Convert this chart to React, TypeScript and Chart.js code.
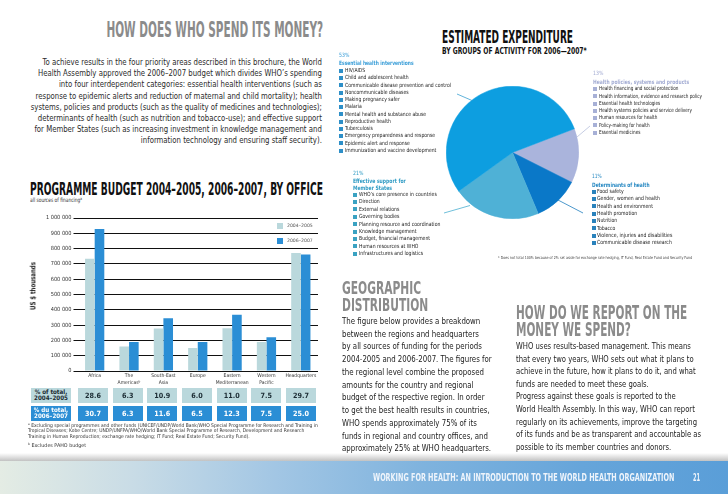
import React, { useEffect, useLayoutEffect, useRef } from "react";
import { Chart, registerables } from "chart.js";
Chart.register(...registerables);

// ---------- data ----------
const offices = [["Africa"], ["The", "Americasᵇ"], ["South-East", "Asia"], ["Europe"], ["Eastern", "Mediterranean"], ["Western", "Pacific"], ["Headquarters"]];
const seriesNames = ["2004–2005", "2006–2007"];
const budget2004_2005 = [733000, 160000, 277000, 151000, 279000, 190000, 772000];
const budget2006_2007 = [928000, 190000, 345000, 190000, 367000, 221000, 761000];
const yMax = 1000000;
const yStep = 100000;
const share2004_2005 = [28.6, 6.3, 10.9, 6.0, 11.0, 7.5, 29.7];
const share2006_2007 = [30.7, 6.3, 11.6, 6.5, 12.3, 7.5, 25.0];
const shareRowLabels = [["% of total,", "2004–2005"], ["% du total,", "2006–2007"]];

const groupNames = ["Health policies, systems and products", "Determinants of health", "Effective support for Member States", "Essential health interventions"];
const groupShares = [13, 11, 21, 53];
const itemsEssential = ["HIV/AIDS", "Child and adolescent health", "Communicable disease prevention and control", "Noncommunicable diseases", "Making pregnancy safer", "Malaria", "Mental health and substance abuse", "Reproductive health", "Tuberculosis", "Emergency preparedness and response", "Epidemic alert and response", "Immunization and vaccine development"];
const itemsPolicies = ["Health financing and social protection", "Health information, evidence and research policy", "Essential health technologies", "Health systems policies and service delivery", "Human resources for health", "Policy-making for health", "Essential medicines"];
const itemsSupport = ["WHO’s core presence in countries", "Direction", "External relations", "Governing bodies", "Planning resource and coordination", "Knowledge management", "Budget, financial management", "Human resources at WHO", "Infrastructures and logistics"];
const itemsDeterminants = ["Food safety", "Gender, women and health", "Health and environment", "Health promotion", "Nutrition", "Tobacco", "Violence, injuries and disabilities", "Communicable disease research"];

const introLines = [
  "To achieve results in the four priority areas described in this brochure, the World",
  "Health Assembly approved the 2006–2007 budget which divides WHO’s spending",
  "into four interdependent categories: essential health interventions (such as",
  "response to epidemic alerts and reduction of maternal and child mortality); health",
  "systems, policies and products (such as the quality of medicines and technologies);",
  "determinants of health (such as nutrition and tobacco-use); and effective support",
  "for Member States (such as increasing investment in knowledge management and",
  "information technology and ensuring staff security).",
];
const geoLines = [
  "The figure below provides a breakdown",
  "between the regions and headquarters",
  "by all sources of funding for the periods",
  "2004-2005 and 2006-2007. The figures for",
  "the regional level combine the proposed",
  "amounts for the country and regional",
  "budget of the respective region. In order",
  "to get the best health results in countries,",
  "WHO spends approximately 75% of its",
  "funds in regional and country offices, and",
  "approximately 25% at WHO headquarters.",
];
const reportLines = [
  "WHO uses results-based management. This means",
  "that every two years, WHO sets out what it plans to",
  "achieve in the future, how it plans to do it, and what",
  "funds are needed to meet these goals.",
  "Progress against these goals is reported to the",
  "World Health Assembly. In this way, WHO can report",
  "regularly on its achievements, improve the targeting",
  "of its funds and be as transparent and accountable as",
  "possible to its member countries and donors.",
];
const footA = [
  "Excluding special programmes and other funds (UNICEF/UNDP/World Bank/WHO Special Programme for Research and Training in",
  "Tropical Diseases; Kobe Centre; UNDP/UNFPA/WHO/World Bank Special Programme of Research, Development and Research",
  "Training in Human Reproduction; exchange rate hedging; IT Fund; Real Estate Fund; Security Fund).",
];
const footB = "Excludes PAHO budget";

// ---------- styles ----------
const W = 728;
const H = 494;
const BODY = '"Liberation Sans Narrow", "DejaVu Sans Condensed", "Open Sans", sans-serif';
const HEAD = '"Liberation Sans Narrow", "DejaVu Sans Condensed", "Roboto", sans-serif';
const LIGHT = "#bad8dc";
const DARK = "#2b8ed5";
const PIE_COLORS = ["#aab4dc", "#0a78c8", "#4fb1d6", "#0d9ee0"];

const fmt = (v: number) => String(v).replace(/\B(?=(\d{3})+(?!\d))/g, " ");

function Sup({ children }: any) {
  return <span style={{ fontSize: "0.65em", position: "relative", top: "-0.5em" }}>{children}</span>;
}

type BlockProps = {
  lines: any[];
  x: number;
  cy: number;
  gap: number;
  size: number;
  weight?: number;
  color?: string;
  family?: string;
  align?: "left" | "right";
  refIdx?: number;
  refW?: number;
};

function Block(p: BlockProps) {
  const outer = useRef<HTMLDivElement>(null);
  const spans = useRef<any[]>([]);
  useLayoutEffect(() => {
    const fit = () => {
      const el = outer.current;
      if (!el || p.refW == null) return;
      const s = spans.current[p.refIdx ?? 0];
      if (!s) return;
      const w = s.offsetWidth;
      if (w > 0) el.style.transform = `scaleX(${p.refW / w})`;
    };
    fit();
    const f: any = (document as any).fonts;
    if (f && f.ready) f.ready.then(fit);
  }, []);
  const right = p.align === "right";
  const pos: any = right ? { right: W - p.x } : { left: p.x };
  return (
    <div
      ref={outer}
      style={{
        position: "absolute",
        top: p.cy - p.gap / 2,
        ...pos,
        transformOrigin: right ? "right top" : "left top",
        fontSize: p.size,
        fontWeight: p.weight ?? 400,
        color: p.color ?? "#222",
        fontFamily: p.family ?? BODY,
        lineHeight: `${p.gap}px`,
        whiteSpace: "nowrap",
        textAlign: right ? "right" : "left",
      }}
    >
      {p.lines.map((l, i) => (
        <div key={i} style={{ height: p.gap }}>
          <span ref={(e) => { spans.current[i] = e; }}>{l}</span>
        </div>
      ))}
    </div>
  );
}

function RotText({ text, cx, cy, size, refW }: any) {
  const r = useRef<HTMLDivElement>(null);
  useLayoutEffect(() => {
    const fit = () => {
      const el = r.current;
      if (!el) return;
      const w = el.offsetWidth;
      el.style.transform = `translate(-50%,-50%) rotate(-90deg) scaleX(${refW / w})`;
    };
    fit();
    const f: any = (document as any).fonts;
    if (f && f.ready) f.ready.then(fit);
  }, []);
  return (
    <div ref={r} style={{ position: "absolute", left: cx, top: cy, whiteSpace: "nowrap", fontSize: size, fontWeight: 700, color: "#222", fontFamily: HEAD, lineHeight: 1 }}>
      {text}
    </div>
  );
}

function Group({ pct, head, items, color, bullet, x, tx, pctY, headY, headGap, headRefW, pctRefW, itemY, itemGap, itemRef, itemRefW }: any) {
  return (
    <>
      <Block lines={[pct]} x={x} cy={pctY} gap={7} size={5.8} color={color} refW={pctRefW} />
      <Block lines={head} x={x} cy={headY} gap={headGap} size={6} weight={700} color={color} refW={headRefW} />
      {items.map((_: string, i: number) => (
        <div key={i} style={{ position: "absolute", left: x, top: itemY + i * itemGap - 2, width: 4, height: 4, background: bullet }} />
      ))}
      <Block lines={items} x={tx} cy={itemY} gap={itemGap} size={5.6} color="#222" refIdx={itemRef} refW={itemRefW} />
    </>
  );
}

export default function App() {
  const barRef = useRef<HTMLCanvasElement>(null);
  const pieRef = useRef<HTMLCanvasElement>(null);

  useEffect(() => {
    const bar = new Chart(barRef.current as HTMLCanvasElement, {
      type: "bar",
      data: {
        labels: offices as any,
        datasets: [
          { label: seriesNames[0], data: budget2004_2005, backgroundColor: LIGHT, categoryPercentage: 0.56, barPercentage: 1 },
          { label: seriesNames[1], data: budget2006_2007, backgroundColor: DARK, categoryPercentage: 0.56, barPercentage: 1 },
        ],
      },
      options: {
        responsive: false,
        animation: false,
        events: [],
        layout: { padding: { top: 10, right: 4, left: 0, bottom: 0 } },
        plugins: { legend: { display: false }, tooltip: { enabled: false } },
        scales: {
          x: {
            grid: { display: false, drawTicks: false },
            border: { display: false },
            ticks: { font: { size: 5, family: BODY, lineHeight: 1.4 }, color: "#333", padding: 1.5, maxRotation: 0, autoSkip: false },
            afterFit: (s: any) => { s.height = 19; },
          },
          y: {
            min: 0,
            max: yMax,
            ticks: { stepSize: yStep, callback: (v: any) => fmt(Number(v)), font: { size: 5.6, family: BODY }, color: "#333", padding: 2 },
            grid: { color: "#111", lineWidth: 1, tickLength: 4, drawTicks: true },
            border: { display: false },
            afterFit: (s: any) => { s.width = 77.5; },
          },
        },
      } as any,
    });

    const pie = new Chart(pieRef.current as HTMLCanvasElement, {
      type: "pie",
      data: {
        labels: groupNames,
        datasets: [{ data: groupShares, backgroundColor: PIE_COLORS, borderColor: PIE_COLORS, borderWidth: 0.5, hoverBorderWidth: 0, hoverOffset: 0, offset: 0 } as any],
      },
      options: {
        responsive: false,
        animation: false,
        events: [],
        rotation: 69,
        layout: { padding: 0 },
        plugins: { legend: { display: false }, tooltip: { enabled: false } },
      } as any,
    });

    return () => { bar.destroy(); pie.destroy(); };
  }, []);

  const rowTop = [388, 406];
  const rowBg = [LIGHT, DARK];
  const rowFg = ["#1b2b33", "#ffffff"];
  const shareRows = [share2004_2005, share2006_2007];

  return (
    <div style={{ position: "absolute", left: 0, top: 0, width: W, height: H, overflow: "hidden", background: "#fff", fontFamily: BODY }}>
      {/* footer background (drawn first so text stays on top) */}
      <div style={{ position: "absolute", left: 0, top: 453, width: W, height: 8, background: "linear-gradient(to bottom, rgba(255,255,255,0), #c2c2c2)" }} />
      <div style={{ position: "absolute", left: 0, top: 461, width: W, height: 33, background: "linear-gradient(to right, #e4ece4 0%, #c9dce6 18%, #a2c6e4 38%, #7fb3de 58%, #66a5da 80%, #5a9ed8 100%)" }} />

      {/* left column */}
      <Block lines={["HOW DOES WHO SPEND ITS MONEY?"]} align="right" x={322.7} cy={29.5} gap={22} size={21} weight={700} color="#8b8b8b" family={HEAD} refW={216.7} />
      <Block lines={introLines} align="right" x={321.7} cy={62.7} gap={11.2} size={8.8} color="#2a2a2a" refIdx={0} refW={279} />

      <Block lines={["PROGRAMME BUDGET 2004–2005, 2006–2007, BY OFFICE"]} x={30} cy={188.8} gap={20} size={18} weight={700} color="#111" family={HEAD} refW={293} />
      <Block lines={[<>all sources of financing<Sup>a</Sup></>]} x={30} cy={200} gap={8} size={6} color="#333" refW={51.7} />

      <canvas ref={barRef} width={322} height={182} style={{ position: "absolute", left: 0, top: 208, width: 322, height: 182 }} />

      <RotText text="US $ thousands" cx={33} cy={286} size={7.2} refW={48} />

      {/* legend */}
      <div style={{ position: "absolute", left: 276.7, top: 222.5, width: 6, height: 6, background: LIGHT }} />
      <div style={{ position: "absolute", left: 276.7, top: 238, width: 6, height: 6, background: DARK }} />
      <Block lines={[seriesNames[0]]} x={287} cy={225.5} gap={6} size={4.6} color="#555" refW={25.7} />
      <Block lines={[seriesNames[1]]} x={287} cy={241} gap={6} size={4.6} color="#555" refW={25.7} />

      {/* share table */}
      {shareRows.map((row, r) => (
        <React.Fragment key={r}>
          <div style={{ position: "absolute", left: 31, top: rowTop[r], width: 40, height: 14.5, background: rowBg[r], color: rowFg[r], display: "flex", flexDirection: "column", alignItems: "center", justifyContent: "center", fontFamily: BODY, fontWeight: 700, fontSize: 6.2, lineHeight: "6.6px" }}>
            <span>{shareRowLabels[r][0]}</span>
            <span>{shareRowLabels[r][1]}</span>
          </div>
          {row.map((v, i) => (
            <div key={i} style={{ position: "absolute", left: 78 + 34.67 * i, top: rowTop[r], width: 30, height: 14.5, background: rowBg[r], color: rowFg[r], display: "flex", alignItems: "center", justifyContent: "center", fontFamily: BODY, fontWeight: 700, fontSize: 7.2 }}>
              {v.toFixed(1)}
            </div>
          ))}
        </React.Fragment>
      ))}

      <Block lines={[<><Sup>a</Sup> {footA[0]}</>, footA[1], footA[2]]} x={28} cy={425.7} gap={5.5} size={5} color="#333" refIdx={0} refW={290} />
      <Block lines={[<><Sup>b</Sup> {footB}</>]} x={28} cy={445} gap={6} size={5} color="#333" refW={57.7} />

      {/* right column: pie */}
      <Block lines={["ESTIMATED EXPENDITURE"]} x={441.7} cy={37} gap={18} size={17.5} weight={700} color="#111" family={HEAD} refW={131} />
      <Block lines={["BY GROUPS OF ACTIVITY FOR 2006—2007*"]} x={441.7} cy={51} gap={10} size={9.2} weight={700} color="#111" family={HEAD} refW={145} />

      <canvas ref={pieRef} width={133} height={133} style={{ position: "absolute", left: 446, top: 86, width: 133, height: 133 }} />

      <svg width={W} height={H} style={{ position: "absolute", left: 0, top: 0, pointerEvents: "none" }}>
        <line x1={457} y1={94} x2={472} y2={100.5} stroke="#3a9fd0" strokeWidth={0.8} />
        <line x1={590} y1={126} x2={577} y2={137} stroke="#b8c0dc" strokeWidth={0.8} />
        <line x1={470} y1={205.5} x2={444} y2={213} stroke="#4aaed0" strokeWidth={0.8} />
        <line x1={558} y1={200} x2={583} y2={213} stroke="#1f7fbf" strokeWidth={0.8} />
      </svg>

      <Group pct={`${groupShares[3]}%`} head={[groupNames[3]]} items={itemsEssential} color="#3a9ed8" bullet="#2d8fc8"
        x={339.3} tx={345} pctY={55} pctRefW={10.7} headY={62.7} headGap={7} headRefW={75}
        itemY={70.7} itemGap={7.27} itemRef={2} itemRefW={105.7} />
      <Group pct={`${groupShares[0]}%`} head={[groupNames[0]]} items={itemsPolicies} color="#a3acd3" bullet="#a7b0d6"
        x={593.3} tx={599.3} pctY={73} pctRefW={10.7} headY={81.7} headGap={7} headRefW={96}
        itemY={89} itemGap={7.28} itemRef={1} itemRefW={103} />
      <Group pct={`${groupShares[2]}%`} head={["Effective support for", "Member States"]} items={itemsSupport} color="#2f9bc4" bullet="#3aa2c2"
        x={352.7} tx={358.7} pctY={173.3} pctRefW={10.7} headY={180.7} headGap={7.35} headRefW={53}
        itemY={194.7} itemGap={7.39} itemRef={4} itemRefW={81.3} />
      <Group pct={`${groupShares[1]}%`} head={[groupNames[1]]} items={itemsDeterminants} color="#2688c2" bullet="#2a82bc"
        x={591.7} tx={596.7} pctY={176} pctRefW={10} headY={184.3} headGap={7} headRefW={57.6}
        itemY={191.7} itemGap={7.33} itemRef={6} itemRefW={75} />

      <Block lines={["* Does not total 100% because of 2% set aside for exchange rate hedging, IT Fund, Real Estate Fund and Security Fund"]} x={498} cy={257.7} gap={5} size={4} color="#444" refW={194} />

      {/* geographic distribution */}
      <Block lines={["GEOGRAPHIC", "DISTRIBUTION"]} x={341.7} cy={287.3} gap={17.2} size={18.5} weight={700} color="#8b8b8b" family={HEAD} refIdx={0} refW={79} />
      <Block lines={geoLines} x={341.7} cy={321.2} gap={12.75} size={9.2} color="#222" refIdx={0} refW={138.3} />

      {/* reporting */}
      <Block lines={["HOW DO WE REPORT ON THE", "MONEY WE SPEND?"]} x={515.5} cy={312.2} gap={17.1} size={19} weight={700} color="#8b8b8b" family={HEAD} refIdx={0} refW={171.2} />
      <Block lines={reportLines} x={515.5} cy={346.2} gap={12.64} size={9.2} color="#222" refIdx={1} refW={177.2} />

      {/* footer text */}
      <Block lines={["WORKING FOR HEALTH: AN INTRODUCTION TO THE WORLD HEALTH ORGANIZATION"]} x={373.3} cy={478.3} gap={12} size={11} weight={700} color="#eef4fb" family={HEAD} refW={301.7} />
      <Block lines={["21"]} x={693} cy={478.3} gap={12} size={11} weight={700} color="#eef4fb" family={HEAD} refW={7.3} />
    </div>
  );
}
